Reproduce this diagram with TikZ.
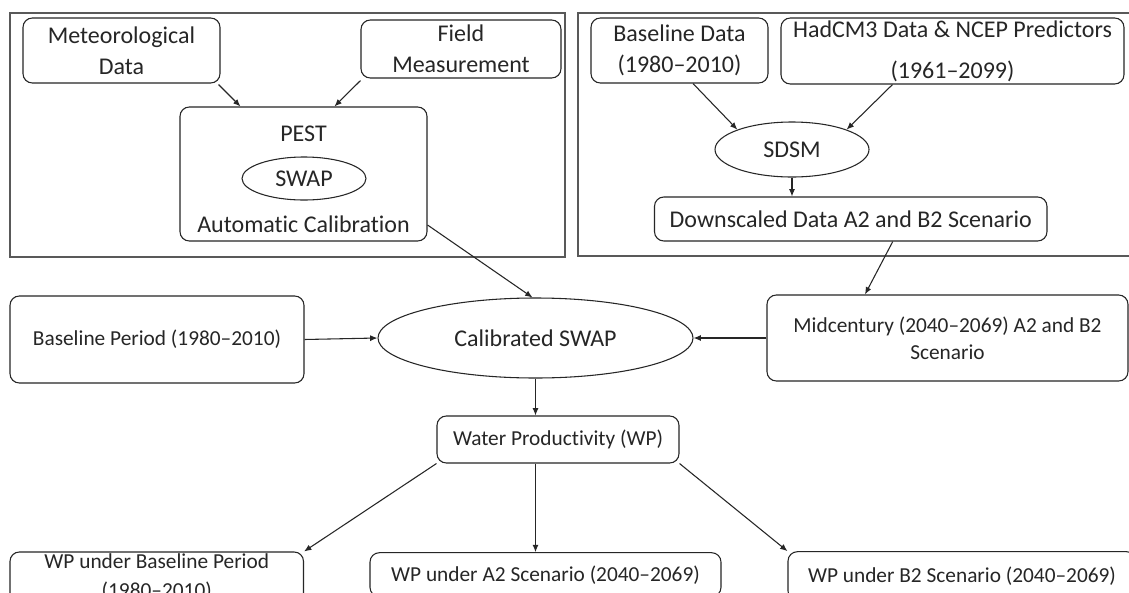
\documentclass[tikz,border=0pt]{standalone}
\usepackage{fontspec}
\setmainfont{Carlito}[Ligatures={TeX,NoCommon}]
\usetikzlibrary{arrows.meta,calc,shapes.geometric}
\tikzset{
  frame/.style={draw=black!65,line width=1.2pt},
  box/.style={draw=black!85,line width=0.8pt,rounded corners=7pt,inner sep=0pt,align=center,text=black!85},
  ell/.style={ellipse,draw=black!85,line width=0.8pt,inner sep=0pt,text=black!85},
  big/.style={font=\fontsize{18}{23.25}\selectfont},
  small/.style={font=\fontsize{16}{20}\selectfont},
  sz/.style 2 args={minimum width=#1*0.75pt,minimum height=#2*0.75pt},
  arr/.style={draw=black!85,line width=0.8pt,-{Latex[length=5.5pt,width=4.5pt]}},
  lbl/.style={inner sep=0pt,text=black!85,align=center}
}
\begin{document}
\begin{tikzpicture}[x=0.75pt,y=-0.75pt]
\clip (0,0) rectangle (1129,593);
\fill[white] (0,0) rectangle (1129,593);
% frames
\draw[frame] (10,13) rectangle (565,257);
\draw[frame] (578,13) rectangle (1135,256);
% left group
\node[box,big,sz={197}{65}] (met) at (121.5,50.5) {Meteorological\\Data};
\node[box,big,sz={200}{58}] (field) at (461,49) {Field\\Measurement};
\node[box,sz={247}{134}] (pest) at (303.5,174) {};
\node[lbl,big] (pestlbl) at (303.5,134) {PEST};
\node[ell,big,sz={124}{43}] (swap) at (304,178.5) {SWAP};
\node[lbl,big] (autocal) at (303.5,224) {Automatic Calibration};
% right group
\node[box,big,sz={177}{65}] (bdata) at (679.5,50.5) {Baseline Data\\(1980–2010)};
\node[box,font=\fontsize{18}{31}\selectfont,sz={343}{66}] (hadcm3) at (952.5,51) {HadCM3 Data \& NCEP Predictors\\(1961–2099)};
\node[ell,big,sz={154}{55}] (sdsm) at (792,149.5) {SDSM};
\node[box,big,sz={392.5}{44}] (down) at (850.75,219) {Downscaled Data A2 and B2 Scenario};
% middle
\node[box,small,sz={294}{87}] (bperiod) at (157,339.5) {Baseline Period (1980–2010)};
\node[ell,big,sz={315}{80}] (calib) at (535.5,338) {Calibrated SWAP};
\node[box,small,sz={361}{86}] (mid) at (947.5,338) {Midcentury (2040–2069) A2 and B2\\Scenario};
\node[box,small,sz={242}{47}] (wp) at (558,439.5) {Water Productivity (WP)};
% bottom
\node[box,font=\fontsize{16}{21.75}\selectfont,sz={293.5}{51}] (wpbase) at (156.75,577.5) {WP under Baseline Period\\(1980–2010)};
\node[box,small,sz={351}{44}] (a2) at (545.5,574.7) {WP under A2 Scenario (2040–2069)};
\node[box,small,sz={348}{48.6}] (b2) at (962,576) {WP under B2 Scenario (2040–2069)};
% connectors
\draw[arr] ($(met.south east)+(-2,1)$) -- ($(pest.north west)+(61,0)$);
\draw[arr] ($(field.south west)+(0,2)$) -- ($(pest.north west)+(155,0)$);
\draw[arr] ($(pest.east)+(0,51)$) -- ($(calib.north)+(-3,0)$);
\draw[arr] ($(bdata.south)+(13.5,0)$) -- (sdsm.160);
\draw[arr] ($(hadcm3.south)+(-60,0)$) -- (sdsm.20);
\draw[arr] (sdsm.south) -- (sdsm.south |- down.north);
\draw[arr] ($(down.south)+(42,0)$) -- ($(mid.north)+(-82.5,0)$);
\draw[arr] (bperiod.east) -- (calib.west);
\draw[arr] (mid.west) -- (calib.east);
\draw[arr] (calib.south) -- (calib.south |- wp.north);
\draw[arr] (wp.south west) -- (wpbase.north east);
\draw[arr] (calib.south |- wp.south) -- (calib.south |- a2.north);
\draw[arr] (wp.south east) -- (b2.north west);
\end{tikzpicture}
\end{document}
